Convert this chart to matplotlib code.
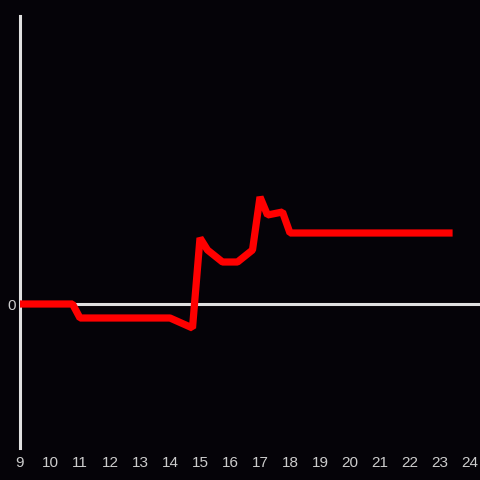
import matplotlib
matplotlib.use("Agg")
import matplotlib.pyplot as plt

hours = [9, 10.75, 11, 14, 14.75, 15, 15.25, 15.75, 16.25, 16.75, 17, 17.25, 17.75, 18, 23.3]
values = [0, 0, -1.4, -1.4, -2.4, 6.6, 5.4, 4.2, 4.2, 5.4, 10.7, 8.9, 9.2, 7.1, 7.1]
xticks = list(range(9, 25))

bg = "#050308"
fig = plt.figure(figsize=(4.8, 4.8), dpi=100, facecolor=bg)
ax = fig.add_axes([20/480, 32/480, 460/480, 432/480], facecolor=bg)
ax.set_xlim(9, 9 + 460/30)
ax.set_ylim(-14.4, 28.8)

ax.axhline(0, color="#e0e0e0", lw=2.2, zorder=1)
ax.plot(hours, values, color="#ff0000", lw=5.2, zorder=3, solid_joinstyle="bevel")

for s in ["top", "right", "bottom"]:
    ax.spines[s].set_visible(False)
ax.spines["left"].set_color("#e0e0e0")
ax.spines["left"].set_linewidth(2.2)

ax.set_xticks(xticks)
ax.set_xticklabels([str(t) for t in xticks])
ax.set_yticks([0])
ax.set_yticklabels(["0"])
ax.tick_params(axis="both", length=0, colors="#cccccc", labelsize=11, pad=6)
ax.tick_params(axis="y", pad=3)
for lab in ax.get_xticklabels() + ax.get_yticklabels():
    lab.set_family("Liberation Sans")
    lab.set_color("#cccccc")

fig.savefig("out.png", dpi=100, facecolor=bg)
